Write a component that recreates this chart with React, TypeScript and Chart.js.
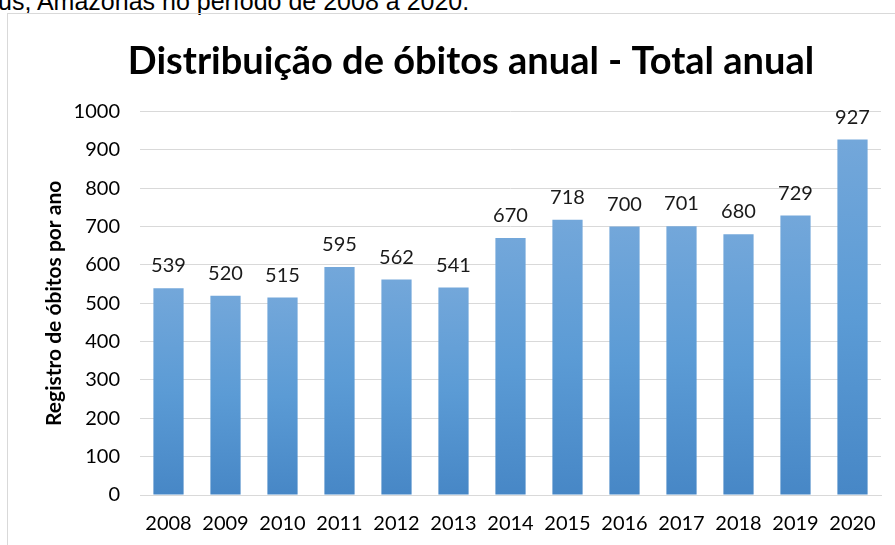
import React, { useEffect, useRef } from "react";
import { Chart, registerables } from "chart.js";

Chart.register(...registerables);

const years = ["2008", "2009", "2010", "2011", "2012", "2013", "2014", "2015", "2016", "2017", "2018", "2019", "2020"];
const deaths = [539, 520, 515, 595, 562, 541, 670, 718, 700, 701, 680, 729, 927];
const yTicks = [0, 100, 200, 300, 400, 500, 600, 700, 800, 900, 1000];
const chartTitle = "Distribuição de óbitos anual - Total anual";
const yTitle = "Registro de óbitos por ano";
const captionText = "us, Amazonas no período de 2008 a 2020.";

const FONT = "Lato, 'Open Sans', sans-serif";

const valueLabels = {
  id: "valueLabels",
  afterDatasetsDraw(chart: any) {
    const ctx = chart.ctx;
    const meta = chart.getDatasetMeta(0);
    ctx.save();
    ctx.font = `20px ${FONT}`;
    ctx.fillStyle = "#1a1a1a";
    ctx.textAlign = "center";
    ctx.textBaseline = "alphabetic";
    meta.data.forEach((bar: any, i: number) => {
      ctx.fillText(String(deaths[i]), bar.x, bar.y - 16);
    });
    ctx.restore();
  },
};

function barFill(context: any) {
  const chart = context.chart;
  const area = chart.chartArea;
  if (!area) return "#5b9bd5";
  const yScale = chart.scales.y;
  const v = deaths[context.dataIndex];
  if (v === undefined || !yScale) return "#5b9bd5";
  const top = yScale.getPixelForValue(v);
  const bottom = yScale.getPixelForValue(0);
  const g = chart.ctx.createLinearGradient(0, top, 0, bottom);
  g.addColorStop(0, "#73a7da");
  g.addColorStop(0.5, "#5b9bd5");
  g.addColorStop(1, "#4787c6");
  return g;
}

export default function App() {
  const ref = useRef<HTMLCanvasElement | null>(null);
  useEffect(() => {
    if (!ref.current) return;
    const chart = new Chart(ref.current, {
      type: "bar",
      data: {
        labels: years,
        datasets: [
          {
            data: deaths,
            backgroundColor: barFill,
            barPercentage: 0.53,
            categoryPercentage: 1,
            yAxisID: "y",
          },
        ],
      },
      options: {
        animation: false,
        responsive: false,
        maintainAspectRatio: false,
        devicePixelRatio: 1,
        layout: { padding: { left: 0, right: 0, top: 0, bottom: 0 } },
        plugins: {
          legend: { display: false },
          tooltip: { enabled: false },
          title: {
            display: true,
            text: chartTitle,
            color: "#000000",
            font: { family: FONT, size: 38, weight: "bold", lineHeight: 1.2 },
            padding: { top: 25, bottom: 27 },
          },
        },
        scales: {
          x: {
            grid: { display: false, drawTicks: false },
            border: { display: true, color: "#d9d9d9", width: 1 },
            ticks: { color: "#000000", font: { family: FONT, size: 20 }, padding: 17 },
            afterFit: (s: any) => {
              s.height = 50;
            },
          },
          y: {
            min: 0,
            max: 1000,
            afterBuildTicks: (s: any) => {
              s.ticks = yTicks.map((v) => ({ value: v }));
            },
            afterFit: (s: any) => {
              s.width = 132;
            },
            grid: { color: "#d9d9d9", drawTicks: false, lineWidth: 1 },
            border: { display: false },
            ticks: {
              color: "#000000",
              font: { family: FONT, size: 20 },
              padding: 20,
              callback: (v: any) => String(v),
            },
            title: {
              display: true,
              text: yTitle,
              color: "#000000",
              font: { family: FONT, size: 21, weight: "bold" },
              padding: { top: 34, bottom: 0 },
            },
          },
          y2: {
            position: "right",
            display: true,
            grid: { display: false, drawTicks: false },
            border: { display: false },
            ticks: { display: false },
            afterFit: (s: any) => {
              s.width = 53;
            },
          },
        },
      },
      plugins: [valueLabels],
    });
    return () => chart.destroy();
  }, []);

  return (
    <div style={{ position: "fixed", left: 0, top: 0, width: 895, height: 545, overflow: "hidden", background: "#ffffff" }}>
      <div
        style={{
          position: "absolute",
          left: -2,
          top: -11,
          whiteSpace: "nowrap",
          font: "25px 'Liberation Sans', Arial, sans-serif",
          lineHeight: "25px",
          color: "#000000",
        }}
      >
        {captionText}
      </div>
      <div
        style={{
          position: "absolute",
          left: 7,
          top: 13,
          width: 1000,
          height: 1000,
          border: "1px solid #d9d9d9",
          boxSizing: "border-box",
        }}
      />
      <div style={{ position: "absolute", left: 8, top: 14, width: 926, height: 531 }}>
        <canvas ref={ref} width={926} height={531} style={{ width: 926, height: 531, display: "block" }} />
      </div>
    </div>
  );
}
